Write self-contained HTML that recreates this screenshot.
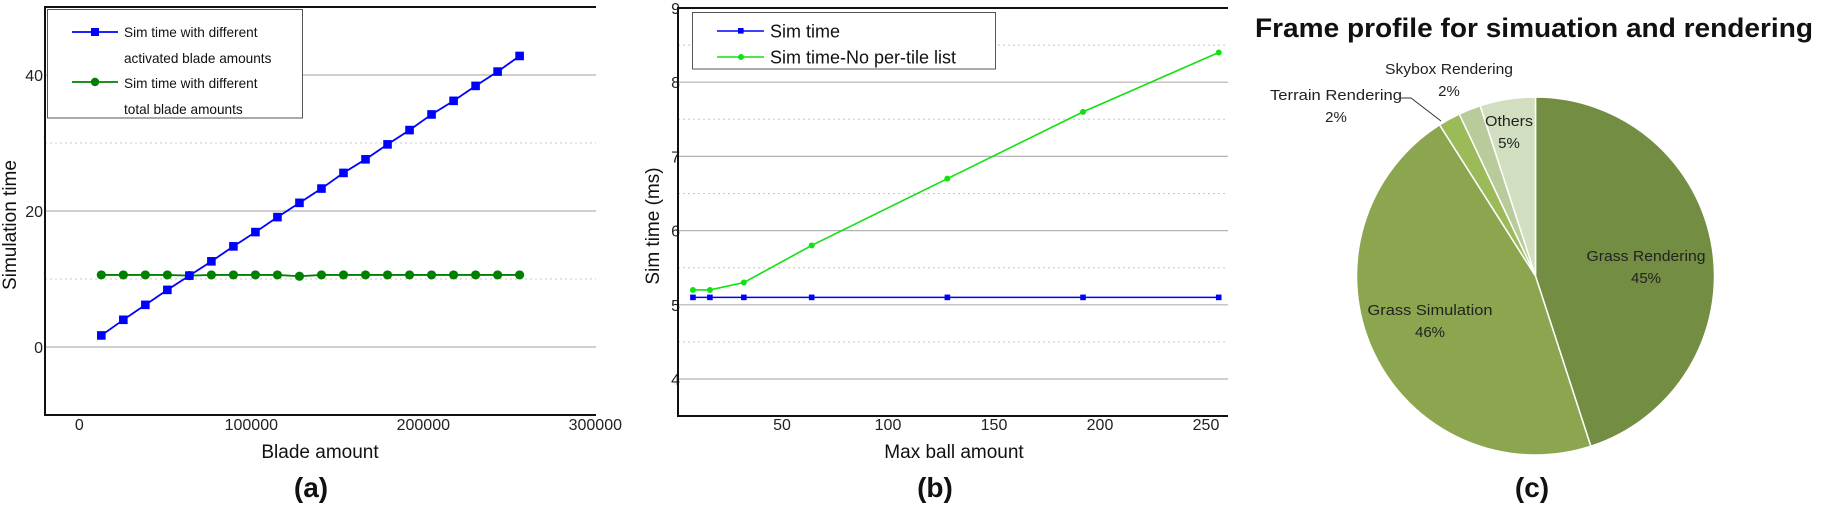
<!DOCTYPE html>
<html><head><meta charset="utf-8"><style>
html,body{margin:0;padding:0;background:#fff;width:1821px;height:506px;overflow:hidden}
svg{display:block;font-family:"Liberation Sans",sans-serif}
</style></head><body>
<svg id="fig" width="1821" height="506" viewBox="0 0 1821 506">
<g id="ga"></g>
<g id="gb"></g>
<g id="gc"></g>
</svg>
<script>
// ---- Chart (a) data ----
const aX = [12800,25600,38400,51200,64000,76800,89600,102400,115200,128000,140800,153600,166400,179200,192000,204800,217600,230400,243200,256000];
const aActivated = [1.7,4.0,6.2,8.4,10.5,12.6,14.8,16.9,19.1,21.2,23.3,25.6,27.6,29.8,31.9,34.2,36.2,38.4,40.5,42.8];
const aTotal = [10.6,10.6,10.6,10.6,10.5,10.6,10.6,10.6,10.6,10.4,10.6,10.6,10.6,10.6,10.6,10.6,10.6,10.6,10.6,10.6];
const aYTicks = [0,20,40];
const aYMinor = [10,30];
const aXTicks = [0,100000,200000,300000];
// ---- Chart (b) data ----
const bX = [8,16,32,64,128,192,256];
const bSim = [5.1,5.1,5.1,5.1,5.1,5.1,5.1];
const bNoList = [5.2,5.2,5.3,5.8,6.7,7.6,8.4];
const bYTicks = [4,5,6,7,8,9];
const bYMinor = [4.5,5.5,6.5,7.5,8.5];
const bXTicks = [50,100,150,200,250];
// ---- Chart (c) data ----
const cLabels = ["Grass Rendering","Grass Simulation","Terrain Rendering","Skybox Rendering","Others"];
const cValues = [45,46,2,2,5];

const NS="http://www.w3.org/2000/svg";
function mk(parent,tag,attrs,text){const e=document.createElementNS(NS,tag);for(const k in attrs)e.setAttribute(k,attrs[k]);if(text!==undefined)e.textContent=text;parent.appendChild(e);return e;}

// ===== Chart A =====
(function(){
const g=document.getElementById('ga');
const xs=v=>79.3+v*0.00172, ys=v=>347-v*6.8;
const L=45,T=7,B=415,R=596;
aYMinor.forEach(v=>{const l=mk(g,'line',{x1:L,x2:R,y1:ys(v),y2:ys(v),stroke:'#c8c8c8','stroke-width':1,'stroke-dasharray':'2,3'});

});
aYTicks.forEach(v=>{const l=mk(g,'line',{x1:L,x2:R,y1:ys(v),y2:ys(v),stroke:'#b4b4b4','stroke-width':1.2});


const t=mk(g,'text',{x:43,y:ys(v)+6,'text-anchor':'end','font-size':16,fill:'#222'},String(v));

});
aXTicks.forEach(v=>{const t=mk(g,'text',{x:xs(v),y:430,'text-anchor':'middle','font-size':16,fill:'#222'},String(v));

});
const ax=mk(g,'path',{d:`M${R},${T}H${L}V${B}H${R}`,fill:'none',stroke:'#111','stroke-width':2});


// green series
const pg=mk(g,'polyline',{points:aX.map((x,i)=>xs(x)+','+ys(aTotal[i])).join(' '),fill:'none',stroke:'#008000','stroke-width':1.8});


aX.forEach((x,i)=>{const c=mk(g,'circle',{cx:xs(x),cy:ys(aTotal[i]),r:4.6,fill:'#008000'});

});
const pb=mk(g,'polyline',{points:aX.map((x,i)=>xs(x)+','+ys(aActivated[i])).join(' '),fill:'none',stroke:'#0000ff','stroke-width':1.8});


aX.forEach((x,i)=>{const r=mk(g,'rect',{x:xs(x)-4.3,y:ys(aActivated[i])-4.3,width:8.6,height:8.6,fill:'#0000ff'});

});
// legend
const lg=mk(g,'g',{});


mk(lg,'rect',{x:47.5,y:9.5,width:255,height:108.5,fill:'#fff',stroke:'#555','stroke-width':1});
mk(lg,'line',{x1:72,x2:118,y1:32,y2:32,stroke:'#0000ff','stroke-width':1.8});
mk(lg,'rect',{x:91,y:28,width:8,height:8,fill:'#0000ff'});
mk(lg,'line',{x1:72,x2:118,y1:82,y2:82,stroke:'#008000','stroke-width':1.8});
mk(lg,'circle',{cx:95,cy:82,r:4.2,fill:'#008000'});
[["Sim time with different",37],["activated blade amounts",63],["Sim time with different",88],["total blade amounts",114]].forEach(([s,y])=>{
const t=mk(lg,'text',{x:124,y:y,'font-size':13.6,fill:'#111'},s);

});
const yt=mk(g,'text',{x:0,y:0,transform:'translate(16,225) rotate(-90)','text-anchor':'middle','font-size':19,fill:'#111'},'Simulation time');


const xt=mk(g,'text',{x:320,y:458,'text-anchor':'middle','font-size':19,fill:'#111'},'Blade amount');


const cap=mk(g,'text',{x:311,y:497,'text-anchor':'middle','font-size':28,'font-weight':'bold',fill:'#111'},'(a)');


})();

// ===== Chart B =====
(function(){
const g=document.getElementById('gb');
const xs=v=>676+v*2.12, ys=v=>8+(9-v)*74.2;
const L=678,T=8,B=416,R=1228;
bYMinor.forEach(v=>{const l=mk(g,'line',{x1:L,x2:R,y1:ys(v),y2:ys(v),stroke:'#c8c8c8','stroke-width':1,'stroke-dasharray':'2,3'});

});
bYTicks.forEach(v=>{if(v<9){const l=mk(g,'line',{x1:L,x2:R,y1:ys(v),y2:ys(v),stroke:'#b4b4b4','stroke-width':1.2});

}
const t=mk(g,'text',{x:680,y:ys(v)+6,'text-anchor':'end','font-size':16,fill:'#222'},String(v));

});
bXTicks.forEach(v=>{const t=mk(g,'text',{x:xs(v),y:430,'text-anchor':'middle','font-size':16,fill:'#222'},String(v));

});
const ax=mk(g,'path',{d:`M${R},${T}H${L}V${B}H${R}`,fill:'none',stroke:'#111','stroke-width':2});


const pg=mk(g,'polyline',{points:bX.map((x,i)=>xs(x)+','+ys(bNoList[i])).join(' '),fill:'none',stroke:'#11e011','stroke-width':1.6});


bX.forEach((x,i)=>{const c=mk(g,'circle',{cx:xs(x),cy:ys(bNoList[i]),r:3,fill:'#11e011'});

});
const pb=mk(g,'polyline',{points:bX.map((x,i)=>xs(x)+','+ys(bSim[i])).join(' '),fill:'none',stroke:'#0000ff','stroke-width':1.6});


bX.forEach((x,i)=>{const r=mk(g,'rect',{x:xs(x)-2.8,y:ys(bSim[i])-2.8,width:5.6,height:5.6,fill:'#0000ff'});

});
const lg=mk(g,'g',{});


mk(lg,'rect',{x:692.5,y:12.5,width:303,height:56.5,fill:'#fff',stroke:'#555','stroke-width':1});
mk(lg,'line',{x1:717,x2:764,y1:31,y2:31,stroke:'#0000ff','stroke-width':1.6});
mk(lg,'rect',{x:738,y:28,width:5.6,height:5.6,fill:'#0000ff'});
mk(lg,'line',{x1:717,x2:764,y1:57,y2:57,stroke:'#11e011','stroke-width':1.6});
mk(lg,'circle',{cx:741,cy:57,r:3,fill:'#11e011'});
[["Sim time",37.5],["Sim time-No per-tile list",63.5]].forEach(([s,y])=>{
const t=mk(lg,'text',{x:770,y:y,'font-size':18,fill:'#111'},s);

});
const yt=mk(g,'text',{x:0,y:0,transform:'translate(659,226) rotate(-90)','text-anchor':'middle','font-size':19,fill:'#111'},'Sim time (ms)');


const xt=mk(g,'text',{x:954,y:458,'text-anchor':'middle','font-size':19,fill:'#111'},'Max ball amount');


const cap=mk(g,'text',{x:935,y:497,'text-anchor':'middle','font-size':28,'font-weight':'bold',fill:'#111'},'(b)');


})();

// ===== Chart C =====
(function(){
const g=document.getElementById('gc');
const cx=1535.5, cy=276, r=179;
const colors=['#738d42','#8ba64f','#9bbb59','#b9cb9b','#d2dec0'];
const total=cValues.reduce((a,b)=>a+b,0);
let acc=0;
cValues.forEach((v,i)=>{
const a0=acc/total*2*Math.PI; acc+=v; const a1=acc/total*2*Math.PI;
const x0=cx+r*Math.sin(a0), y0=cy-r*Math.cos(a0), x1=cx+r*Math.sin(a1), y1=cy-r*Math.cos(a1);
const large=(a1-a0)>Math.PI?1:0;
const p=mk(g,'path',{d:`M${cx},${cy}L${x0},${y0}A${r},${r} 0 ${large} 1 ${x1},${y1}Z`,fill:colors[i],stroke:'#fff','stroke-width':1.5});


});
const title=mk(g,'text',{x:1255,y:37,'font-size':27,'font-weight':'bold',fill:'#111',textLength:558,lengthAdjust:'spacingAndGlyphs'},'Frame profile for simuation and rendering');


const lab=[
 [0,1646,256,119],[1,1430,310,125],[2,1336,95,132],[3,1449,69,128],[4,1509,121,48]];
lab.forEach(([i,x,y,w])=>{
const t=mk(g,'text',{x:x,y:y+5,'text-anchor':'middle','font-size':15,fill:'#222',textLength:w,lengthAdjust:'spacingAndGlyphs'},cLabels[i]==='Others'?'Others':cLabels[i]);


const p=mk(g,'text',{x:x,y:y+27,'text-anchor':'middle','font-size':15,fill:'#222'},cValues[i]+'%');


});
const ld=mk(g,'polyline',{points:'1401,98 1411,98 1441,121',fill:'none',stroke:'#333','stroke-width':1});


const cap=mk(g,'text',{x:1532,y:497,'text-anchor':'middle','font-size':28,'font-weight':'bold',fill:'#111'},'(c)');


})();
</script>
</body></html>
